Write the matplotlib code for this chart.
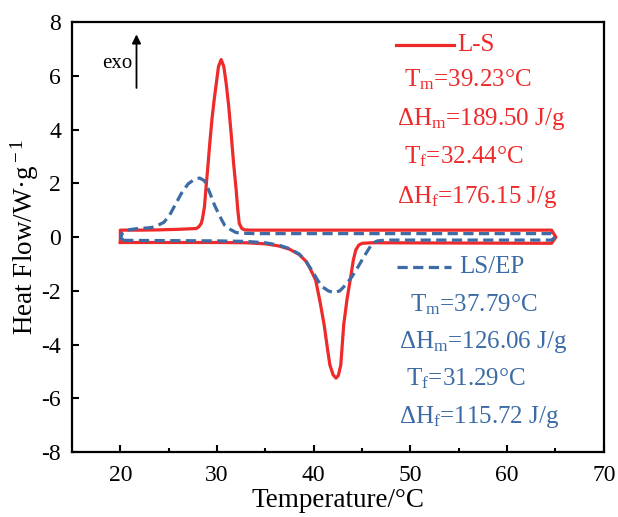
# DSC curves of L-S and LS/EP
import matplotlib as mpl
import matplotlib.pyplot as plt

# Global settings: Times-like serif everywhere, ticks inside
mpl.rcParams['font.family'] = ['Liberation Serif', 'DejaVu Serif']
mpl.rcParams['mathtext.fontset'] = 'custom'
mpl.rcParams['mathtext.rm'] = 'Liberation Serif'
mpl.rcParams['mathtext.it'] = 'Liberation Serif:italic'
mpl.rcParams['axes.unicode_minus'] = False
mpl.rcParams['xtick.direction'] = 'in'
mpl.rcParams['ytick.direction'] = 'in'

RED = '#EE2A2A'
BLUE = '#3C6BA5'

# L-S, heating run (20 -> 65 C)
red_heat_x = [20.0, 25, 30, 33, 35, 36.4, 37.5, 38.5, 39.2, 39.6, 40.2, 40.65, 41.08, 41.4, 41.67,
              42.0, 42.3, 42.55, 42.8, 43.1, 43.45, 43.8, 44.1, 44.35, 44.65, 45.0, 46, 55, 64.6]
red_heat_y = [-0.2, -0.2, -0.2, -0.21, -0.25, -0.33, -0.45, -0.65, -0.9, -1.15, -1.6, -2.4, -3.27, -4.1, -4.76,
              -5.12, -5.25, -5.15, -4.76, -3.27, -2.3, -1.54, -0.85, -0.48, -0.3, -0.23, -0.21, -0.22, -0.23]
# L-S, cooling run (65 -> 20 C)
red_cool_x = [65.05, 64.6, 60, 50, 40, 35, 33.5, 32.84, 32.55, 32.3, 32.15, 31.98, 31.7, 31.46, 31.2, 30.95,
              30.7, 30.43, 30.15, 29.92, 29.7, 29.5, 29.25, 29.05, 28.85, 28.7, 28.5, 28.37, 28.1, 27.85,
              26, 24, 22, 20.0, 20.0]
red_cool_y = [0.0, 0.26, 0.26, 0.26, 0.26, 0.26, 0.26, 0.27, 0.33, 0.51, 1.0, 1.75, 2.8, 3.85, 4.9, 5.71,
              6.35, 6.61, 6.35, 5.71, 5.1, 4.47, 3.5, 2.61, 1.8, 1.13, 0.7, 0.51, 0.38, 0.32,
              0.29, 0.27, 0.26, 0.26, -0.2]

# LS/EP, heating run
blue_heat_x = [20.3, 25, 30, 33, 35, 36.4, 37.5, 38.5, 39.2, 39.9, 40.4, 40.9, 41.5, 42.1, 42.7, 43.3,
               43.9, 44.5, 45.0, 45.5, 46.06, 46.6, 47.5, 55, 64.6]
blue_heat_y = [-0.12, -0.13, -0.14, -0.16, -0.21, -0.3, -0.43, -0.63, -0.9, -1.29, -1.6, -1.85, -2.0, -2.07,
               -2.0, -1.78, -1.5, -1.16, -0.85, -0.55, -0.23, -0.14, -0.11, -0.11, -0.11]
# LS/EP, cooling run
blue_cool_x = [65.0, 64.6, 60, 50, 40, 34, 33, 32.5, 31.98, 31.4, 30.77, 30.25, 29.74, 29.2, 28.7, 28.2,
               27.7, 27.0, 26.3, 25.7, 25.1, 24.5, 23.55, 22.8, 22, 21, 20.6, 20.15, 20.05, 20.3]
blue_cool_y = [0.01, 0.13, 0.13, 0.13, 0.13, 0.13, 0.14, 0.15, 0.17, 0.28, 0.45, 0.8, 1.19, 1.7, 2.1, 2.2,
               2.16, 1.98, 1.62, 1.22, 0.82, 0.55, 0.38, 0.34, 0.33, 0.28, 0.24, 0.12, -0.02, -0.12]

red_notes = ['T$_{\\rm m}$=39.23°C', 'ΔH$_{\\rm m}$=189.50 J/g', 'T$_{\\rm f}$=32.44°C', 'ΔH$_{\\rm f}$=176.15 J/g']
blue_notes = ['T$_{\\rm m}$=37.79°C', 'ΔH$_{\\rm m}$=126.06 J/g', 'T$_{\\rm f}$=31.29°C', 'ΔH$_{\\rm f}$=115.72 J/g']

fig = plt.figure(figsize=(6.18, 5.17), dpi=100)
ax = fig.add_axes([0.1165, 0.1257, 0.8605, 0.8313])

# Closed DSC loops: heating then cooling back
ax.plot(red_heat_x + red_cool_x, red_heat_y + red_cool_y, color=RED, lw=2.3, solid_joinstyle='round')
ax.plot(blue_heat_x + blue_cool_x, blue_heat_y + blue_cool_y, color=BLUE, lw=2.3, dashes=(3.2, 1.7))

# Hand-made legends and annotations
ax.plot([48.5, 54.5], [7.14, 7.14], color=RED, lw=2.3)
ax.text(54.8, 7.14, 'L-S', color=RED, fontsize=18, va='center')
for (x, y), s in zip([(49.3, 5.85), (48.6, 4.4), (49.3, 2.98), (48.6, 1.5)], red_notes):
    ax.text(x, y, s, color=RED, fontsize=18, va='center')

ax.plot([48.6, 54.2], [-1.12, -1.12], color=BLUE, lw=2.3, dashes=(3.2, 1.7))
ax.text(55.0, -1.12, 'LS/EP', color=BLUE, fontsize=18, va='center')
for (x, y), s in zip([(50.0, -2.52), (48.8, -3.9), (49.5, -5.27), (48.8, -6.68)], blue_notes):
    ax.text(x, y, s, color=BLUE, fontsize=18, va='center')

# exo arrow
ax.annotate('', xy=(21.67, 7.65), xytext=(21.67, 5.45),
            arrowprops=dict(arrowstyle='-|>', color='black', lw=1.3, mutation_scale=13))
ax.text(18.1, 6.47, 'exo', fontsize=15, va='center')

ax.set_xlim(15, 70)
ax.set_ylim(-8, 8)
ax.set_xticks([20, 30, 40, 50, 60, 70])
ax.set_xticks([25, 35, 45, 55, 65], minor=True)
ax.set_yticks(range(-8, 9, 2))
ax.tick_params(which='major', length=5, width=1.5, labelsize=17, top=False, right=False)
ax.tick_params(axis='x', which='major', pad=9)
ax.tick_params(axis='y', which='major', pad=8)
ax.tick_params(which='minor', length=3, width=1.5, top=False, right=False)
for s in ax.spines.values():
    s.set_linewidth(1.6)

ax.set_xlabel('Temperature/°C', fontsize=19.5, labelpad=2)
ax.set_ylabel('Heat Flow/W·g$^{\\rm -1}$', fontsize=19.5, labelpad=0)

fig.savefig('out.png', dpi=100)
